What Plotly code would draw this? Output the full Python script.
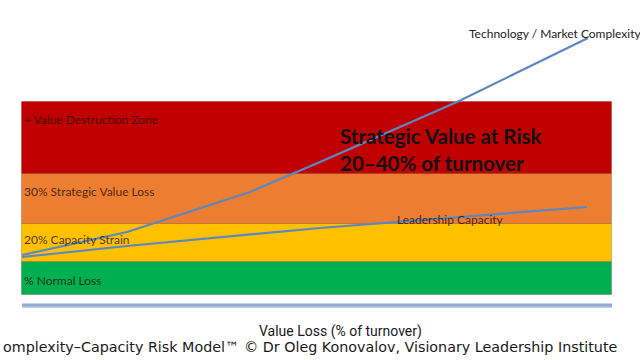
import plotly.graph_objects as go

# ---- data (chart units: x 0..640, y 0..360 upward) ----
band_names = ["% Normal Loss", "20% Capacity Strain", "30% Strategic Value Loss", "+ Value Destruction Zone"]
band_bottoms = [65, 98, 136, 186]
band_tops = [98, 136, 186, 258]
band_colors = ["#00B050", "#FFC000", "#ED7D31", "#C00000"]
band_label_y = [80, 121, 169, 241]
band_x_left = 22
band_x_right = 612

tech_x = [22, 127, 250, 320, 457, 588]
tech_y = [105, 128, 168, 198, 258, 322]
lead_x = [22, 127, 320, 587]
lead_y = [103, 114, 132, 153]

baseline_y = 55

fig = go.Figure()

xc = (band_x_left + band_x_right) / 2
w = band_x_right - band_x_left
fig.add_trace(go.Bar(
    x=[xc] * len(band_names),
    y=[t - b for t, b in zip(band_tops, band_bottoms)],
    base=band_bottoms,
    width=[w] * len(band_names),
    marker=dict(color=band_colors, line=dict(color="rgba(80,40,0,0.25)", width=1)),
    hoverinfo="skip", showlegend=False,
))

# baseline (shadow + light blue)
fig.add_trace(go.Scatter(x=[band_x_left, band_x_right], y=[baseline_y - 2, baseline_y - 2], mode="lines",
                         line=dict(color="#C8CCD4", width=2), showlegend=False, hoverinfo="skip"))
fig.add_trace(go.Scatter(x=[band_x_left, band_x_right], y=[baseline_y, baseline_y], mode="lines",
                         line=dict(color="#8FAADC", width=3), showlegend=False, hoverinfo="skip"))

# lines
fig.add_trace(go.Scatter(x=lead_x, y=lead_y, mode="lines",
                         line=dict(color="#5B87C2", width=2.2), showlegend=False, hoverinfo="skip"))
fig.add_trace(go.Scatter(x=tech_x, y=tech_y, mode="lines",
                         line=dict(color="#5B87C2", width=2.2), showlegend=False, hoverinfo="skip"))

font_main = "Lato, Open Sans, sans-serif"
for name, yy in zip(band_names, band_label_y):
    fig.add_annotation(x=band_x_left, y=yy, text=name, showarrow=False, xanchor="left", yanchor="middle",
                       font=dict(family=font_main, size=12, color="rgba(30,15,5,0.8)"))

fig.add_annotation(x=338, y=224, text="<b>Strategic Value at Risk</b>", showarrow=False, xanchor="left",
                   yanchor="middle", font=dict(family=font_main, size=20.5, color="#111111"))
fig.add_annotation(x=338, y=197, text="<b>20–40% of turnover</b>", showarrow=False, xanchor="left",
                   yanchor="middle", font=dict(family=font_main, size=20.5, color="#111111"))
fig.add_annotation(x=395, y=141, text="Leadership Capacity", showarrow=False, xanchor="left",
                   yanchor="middle", font=dict(family=font_main, size=12, color="rgba(30,15,5,0.8)"))
fig.add_annotation(x=467, y=327, text="Technology / Market Complexity", showarrow=False, xanchor="left",
                   yanchor="middle", font=dict(family=font_main, size=12, color="#222222"))

fig.add_annotation(x=340, y=29, text="Value Loss (% of turnover)", showarrow=False, xanchor="center",
                   yanchor="middle", font=dict(family="Roboto, sans-serif", size=14, color="#1a1a1a"))
fig.add_annotation(x=1, y=13, text="omplexity–Capacity Risk Model™ © Dr Oleg Konovalov, Visionary Leadership Institute",
                   showarrow=False, xanchor="left", yanchor="middle",
                   font=dict(family="DejaVu Sans, sans-serif", size=14.3, color="#1a1a1a"))

fig.update_layout(
    width=640, height=360, margin=dict(l=0, r=0, t=0, b=0),
    paper_bgcolor="white", plot_bgcolor="white", barmode="overlay", bargap=0,
    xaxis=dict(range=[0, 640], visible=False, fixedrange=True),
    yaxis=dict(range=[0, 360], visible=False, fixedrange=True),
)
fig.write_html("out.html", config={"displayModeBar": False},
               post_script="document.body.style.margin='0';document.body.style.overflow='hidden';")
